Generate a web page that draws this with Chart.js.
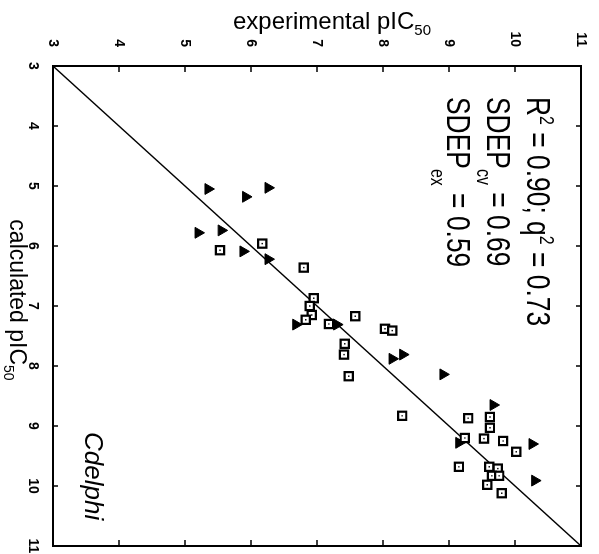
<!DOCTYPE html>
<html>
<head>
<meta charset="utf-8">
<script src="https://cdn.jsdelivr.net/npm/chart.js@4.4.1/dist/chart.umd.min.js"></script>
<style>
html, body { margin: 0; padding: 0; background: #fff; }
body { width: 599px; height: 554px; overflow: hidden; position: relative; }
/* the figure is drawn upright and then turned 90deg clockwise, like the scan */
#wrap { position: absolute; left: 0; top: 0; width: 554px; height: 599px;
        transform-origin: 0 0; transform: translate(599px, 0) rotate(90deg); }
</style>
</head>
<body>
<div id="wrap"><canvas id="chart" width="554" height="599"></canvas></div>
<script>
const axisMin = 3;
const axisMax = 11;
const tickValues = [3, 4, 5, 6, 7, 8, 9, 10, 11];

// open squares: calculated vs experimental pIC50
const squareCalc = [6.07, 5.96, 6.36, 6.87, 7.00, 7.15, 7.23, 7.30, 7.17, 7.63, 7.81, 8.17, 7.38, 7.41, 8.83,
                    8.87, 8.85, 9.03, 9.21, 9.25, 9.20, 9.43, 9.68, 9.68, 9.71, 9.83, 9.83, 9.98, 10.12];
const squareExp  = [5.53, 6.17, 6.80, 6.95, 6.89, 6.92, 6.83, 7.18, 7.58, 7.42, 7.41, 7.48, 8.03, 8.14, 8.29,
                    9.29, 9.62, 9.62, 9.53, 9.82, 9.24, 10.02, 9.15, 9.61, 9.74, 9.65, 9.76, 9.58, 9.80];

// filled triangles
const triCalc = [5.05, 5.18, 5.03, 5.78, 5.74, 6.09, 6.22, 7.31, 7.31, 7.88, 7.81, 8.14, 8.65, 9.30, 9.91, 9.28];
const triExp  = [5.35, 5.92, 6.26, 5.20, 5.55, 5.88, 6.26, 6.68, 7.30, 8.14, 8.30, 8.91, 9.67, 10.26, 10.30, 9.15];

// y = x reference line
const idealLine = [axisMin, axisMax];

const statLines = [
    [{t: 'R'}, {t: '2', sup: true}, {t: ' = 0.90; q'}, {t: '2', sup: true}, {t: ' = 0.73'}],
    [{t: 'SDEP'}, {t: 'cv', sub: 10}, {t: ' = 0.69'}],
    [{t: 'SDEP'}, {t: 'ex', sub: 16}, {t: ' = 0.59'}]
];

const FONT = '"Liberation Sans", Arial, Helvetica, sans-serif';

function toPoints(xs, ys) {
    return xs.map((v, i) => ({x: v, y: ys[i]}));
}

function runFont(r, size) {
    const s = (r.sup || r.sub) ? Math.round(size * 0.62) : size;
    return (r.italic ? 'italic ' : '') + s + 'px ' + FONT;
}

function runsWidth(ctx, runs, size) {
    let w = 0;
    runs.forEach(r => { ctx.font = runFont(r, size); w += ctx.measureText(r.t).width; });
    return w;
}

// draws text pieces with sub/superscripts starting at (0,0) baseline
function drawRuns(ctx, runs, size) {
    let cx = 0;
    runs.forEach(r => {
        ctx.font = runFont(r, size);
        let dy = 0;
        if (r.sup) dy = -size * 0.38;
        if (r.sub) dy = r.sub;
        ctx.fillText(r.t, cx, dy);
        cx += ctx.measureText(r.t).width;
    });
}

const framePlugin = {
    id: 'frame',
    afterDatasetsDraw(chart) {
        const {ctx, chartArea: a, scales: {x, y}} = chart;
        ctx.save();
        ctx.strokeStyle = '#000';
        ctx.lineWidth = 2;
        ctx.strokeRect(a.left, a.top, a.right - a.left, a.bottom - a.top);
        ctx.lineWidth = 1.5;
        ctx.beginPath();
        tickValues.forEach(v => {
            const px = x.getPixelForValue(v);
            ctx.moveTo(px, a.bottom); ctx.lineTo(px, a.bottom - 5);
            ctx.moveTo(px, a.top); ctx.lineTo(px, a.top + 5);
            const py = y.getPixelForValue(v);
            ctx.moveTo(a.left, py); ctx.lineTo(a.left + 6, py);
            ctx.moveTo(a.right, py); ctx.lineTo(a.right - 6, py);
        });
        ctx.stroke();
        ctx.restore();
    },
    afterDraw(chart) {
        const ctx = chart.ctx;
        ctx.save();
        ctx.fillStyle = '#000';
        ctx.textAlign = 'left';
        ctx.textBaseline = 'alphabetic';

        // axis titles
        const xTitle = [{t: 'calculated pIC'}, {t: '50', sub: 6}];
        const yTitle = [{t: 'experimental pIC'}, {t: '50', sub: 6}];
        const tSize = 23;

        let w = runsWidth(ctx, xTitle, tSize);
        ctx.save();
        ctx.translate(300 - w / 2, 589);
        drawRuns(ctx, xTitle, tSize);
        ctx.restore();

        w = runsWidth(ctx, yTitle, 24);
        ctx.save();
        ctx.translate(29, 267);
        ctx.rotate(-Math.PI / 2);
        ctx.translate(-w / 2, 0);
        drawRuns(ctx, yTitle, 24);
        ctx.restore();

        // statistics block, condensed face
        const sSize = 33;
        statLines.forEach((line, i) => {
            ctx.save();
            ctx.translate(97, 72 + i * 40);
            ctx.scale(0.8, 1);
            drawRuns(ctx, line, sSize);
            ctx.restore();
        });

        // method label
        ctx.save();
        ctx.translate(432, 514);
        drawRuns(ctx, [{t: 'Cdelphi', italic: true}], 26);
        ctx.restore();

        ctx.restore();
    }
};

const tickFont = {family: FONT, size: 14, weight: 'bold'};

new Chart(document.getElementById('chart'), {
    type: 'scatter',
    data: {
        datasets: [
            {
                label: 'centre dots',
                data: toPoints(squareCalc, squareExp),
                pointStyle: 'rect',
                pointRadius: 1,
                backgroundColor: '#000',
                borderWidth: 0,
                order: 0
            },
            {
                label: 'squares',
                data: toPoints(squareCalc, squareExp),
                pointStyle: 'rect',
                pointRadius: 5.8,
                backgroundColor: '#fff',
                borderColor: '#000',
                borderWidth: 2.2,
                order: 1
            },
            {
                label: 'triangles',
                data: toPoints(triCalc, triExp),
                pointStyle: 'triangle',
                pointRadius: 6.3,
                backgroundColor: '#000',
                borderColor: '#000',
                borderWidth: 1,
                order: 2
            },
            {
                label: 'ideal',
                data: toPoints(idealLine, idealLine),
                showLine: true,
                pointRadius: 0,
                borderColor: '#000',
                borderWidth: 1.5,
                order: 3
            }
        ]
    },
    options: {
        responsive: false,
        devicePixelRatio: 1,
        animation: false,
        layout: {padding: {top: 18, right: 4, left: 0, bottom: 0}},
        plugins: {
            legend: {display: false},
            tooltip: {enabled: false}
        },
        scales: {
            x: {
                type: 'linear',
                position: 'bottom',
                min: axisMin,
                max: axisMax,
                afterBuildTicks: s => { s.ticks = tickValues.map(v => ({value: v})); },
                ticks: {color: '#000', font: tickFont, padding: 4, autoSkip: false, maxRotation: 0},
                grid: {display: false},
                border: {display: false},
                afterFit: s => { s.height = 53; s.paddingLeft = 0; s.paddingRight = 0; }
            },
            y: {
                type: 'linear',
                position: 'left',
                min: axisMin,
                max: axisMax,
                afterBuildTicks: s => { s.ticks = tickValues.map(v => ({value: v})); },
                ticks: {color: '#000', font: tickFont, padding: 11, autoSkip: false, maxRotation: 0},
                grid: {display: false},
                border: {display: false},
                afterFit: s => { s.width = 66; s.paddingTop = 0; s.paddingBottom = 0; }
            }
        }
    },
    plugins: [framePlugin]
});
</script>
</body>
</html>
